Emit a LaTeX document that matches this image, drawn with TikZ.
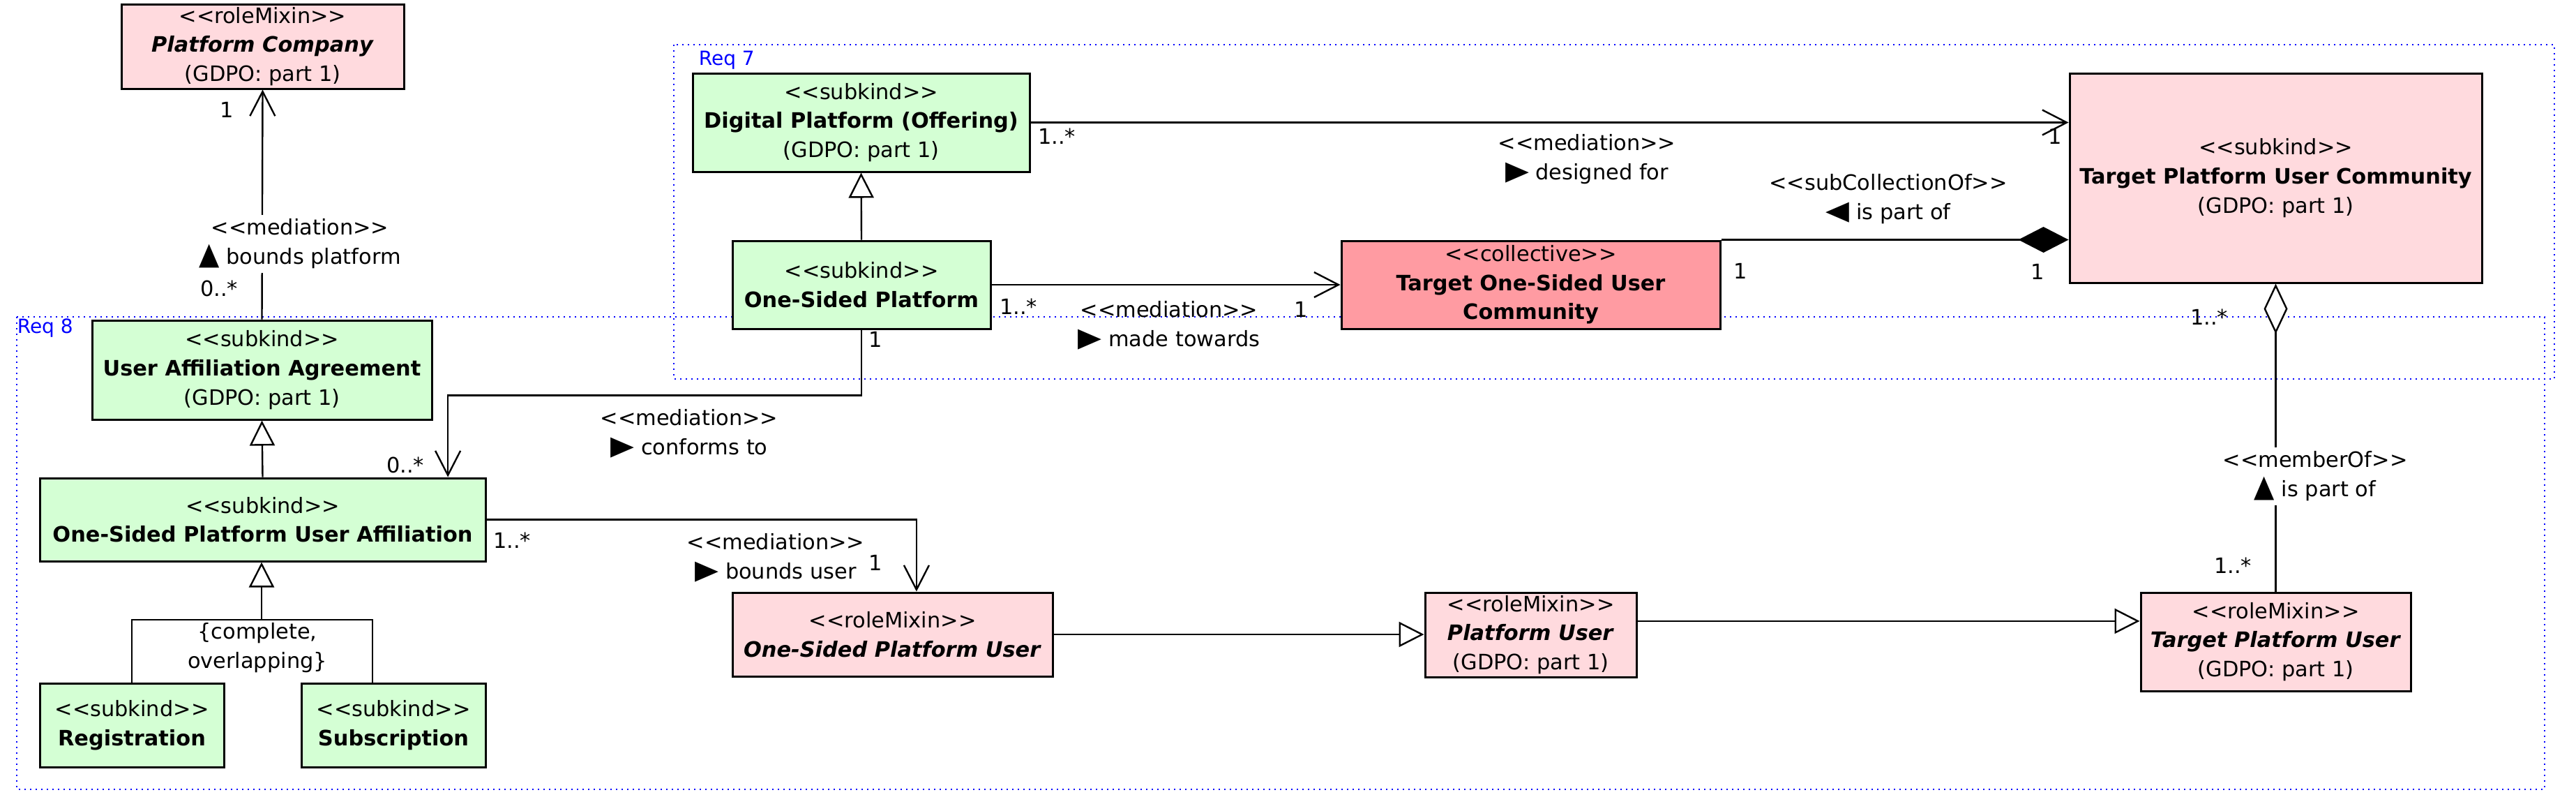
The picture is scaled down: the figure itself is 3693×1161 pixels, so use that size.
\documentclass[tikz,border=0pt]{standalone}
\usepackage{fontspec}
\setmainfont{DejaVu Sans}[Ligatures=TeXOff]
\usetikzlibrary{arrows.meta,calc}
\definecolor{kgreen}{RGB}{212,255,212}
\definecolor{kpink}{RGB}{255,218,222}
\definecolor{kred}{RGB}{255,155,162}
\newcommand\trR{\scalebox{1.45}[1.25]{▶}}
\newcommand\trL{\scalebox{1.45}[1.25]{◀}}
\newcommand\trU{\scalebox{1.25}[1.45]{▲}}
\begin{document}
\begin{tikzpicture}[x=0.25pt,y=-0.25pt,
  every node/.style={font=\fontsize{7.6pt}{10.4pt}\selectfont, inner sep=0pt},
  cls/.style={draw, line width=0.75pt, align=center, inner sep=0pt},
  lbl/.style={align=center},
  conn/.style={line width=0.6pt},
  assoc/.style={conn,-{Straight Barb[length=8.75pt,width=9pt]}},
  gen/.style={conn,-{Triangle[length=9pt,width=9pt,fill=white]}},
  comp/.style={conn,-{Diamond[length=18pt,width=9.25pt]}},
  aggr/.style={conn,-{Diamond[length=18pt,width=8.5pt,fill=white]}},
  req/.style={blue, line width=0.7pt, dash pattern=on 0.6pt off 1.4pt},
  reqlbl/.style={text=blue, anchor=west, font=\fontsize{7pt}{8pt}\selectfont}
]
\useasboundingbox (0,0) rectangle (3693,1161);
\fill[white] (0,0) rectangle (3693,1161);

% requirement frames
\draw[req] (966,64) rectangle (3662,543);
\draw[req] (24,454) rectangle (3648,1131);
\node[reqlbl] (r7) at (1001,86) {Req 7};
\node[reqlbl] (r8) at (24,470) {Req 8};

% classes
\node[cls, fill=kpink, minimum width=101.25pt, minimum height=30.25pt] (PC) at (376.5,66.5)
  {<<roleMixin>>\\\textbf{\textit{Platform Company}}\\(GDPO: part 1)};
\node[cls, fill=kgreen, minimum width=120.75pt, minimum height=35.25pt] (DP) at (1234.5,175.5)
  {<<subkind>>\\\textbf{Digital Platform (Offering)}\\(GDPO: part 1)};
\node[cls, fill=kgreen, minimum width=92.5pt, minimum height=31.5pt] (OSP) at (1235,408)
  {<<subkind>>\\\textbf{One-Sided Platform}};
\node[cls, fill=kred, minimum width=135.75pt, minimum height=31.5pt] (COL) at (2194.5,408)
  {<<collective>>\\\textbf{Target One-Sided User}\\\textbf{Community}};
\node[cls, fill=kpink, minimum width=147.75pt, minimum height=75pt] (TPUC) at (3262.5,255)
  {<<subkind>>\\\textbf{Target Platform User Community}\\(GDPO: part 1)};
\node[cls, fill=kgreen, minimum width=121.75pt, minimum height=35.5pt] (UAA) at (375.5,530)
  {<<subkind>>\\\textbf{User Affiliation Agreement}\\(GDPO: part 1)};
\node[cls, fill=kgreen, minimum width=159.75pt, minimum height=29.75pt] (OSPUA) at (376.5,744.5)
  {<<subkind>>\\\textbf{One-Sided Platform User Affiliation}};
\node[cls, fill=kgreen, minimum width=66pt, minimum height=30pt] (REG) at (189,1039)
  {<<subkind>>\\\textbf{Registration}};
\node[cls, fill=kgreen, minimum width=66pt, minimum height=30pt] (SUB) at (564,1039)
  {<<subkind>>\\\textbf{Subscription}};
\node[cls, fill=kpink, minimum width=114.75pt, minimum height=30pt] (OSPU) at (1279.5,909)
  {<<roleMixin>>\\\textbf{\textit{One-Sided Platform User}}};
\node[cls, fill=kpink, minimum width=75.75pt, minimum height=30.25pt] (PU) at (2194.5,909.5)
  {<<roleMixin>>\\\textbf{\textit{Platform User}}\\(GDPO: part 1)};
\node[cls, fill=kpink, minimum width=96.75pt, minimum height=35.25pt] (TPU) at (3262.5,919.5)
  {<<roleMixin>>\\\textbf{\textit{Target Platform User}}\\(GDPO: part 1)};

% connectors
\draw[assoc] (UAA.north) -- (PC.south);
\draw[assoc] (DP.east) -- (DP.east -| TPUC.west);
\draw[assoc] (OSP.east) -- (COL.west);
\draw[comp] (COL.north east) -- (COL.north east -| TPUC.west);
\draw[assoc] (OSP.south) -- ++(0,94) -| ([xshift=66.4pt]OSPUA.north);
\draw[assoc] (OSPUA.east) -| ([xshift=8.6pt]OSPU.north);
\draw[gen] (OSPU.east) -- (OSPU.east -| PU.west);
\draw[gen] ([yshift=4.9pt]PU.east) -- ([yshift=4.9pt]PU.east -| TPU.west);
\draw[aggr] (TPU.north) -- (TPUC.south);
\draw[gen] (OSPUA.north) -- (UAA.south);
\draw[gen] (OSP.north) -- (DP.south);
\coordinate (gs) at (375,888);
\coordinate (subtop) at ([xshift=-7.5pt]SUB.north);
\draw[conn] (REG.north) |- (gs) -| (subtop);
\draw[gen] (gs) -- (gs |- OSPUA.south);
\node[lbl] (gslbl) at (369,928) {\{complete,\\overlapping\}};

% association labels
\node[lbl, fill=white, inner sep=1.5pt] (l1) at (430,349) {<<mediation>>\\\trU\ bounds platform};
\node[lbl] (l2) at (2275,228) {<<mediation>>\\\trR\ designed for};
\node[lbl] (l3) at (1676,466) {<<mediation>>\\\trR\ made towards};
\node[lbl] (l4) at (2707,285) {<<subCollectionOf>>\\\trL\ is part of};
\node[lbl] (l5) at (988,621) {<<mediation>>\\\trR\ conforms to};
\node[lbl] (l6) at (1112,799) {<<mediation>>\\\trR\ bounds user};
\node[lbl, fill=white, inner sep=1.5pt] (l7) at (3319,682) {<<memberOf>>\\\trU\ is part of};

% multiplicities
\node (m1) at (325,157) {1};
\node (m2) at (314,413) {0..*};
\node (m3) at (1515,195) {1..*};
\node (m4) at (2946,195) {1};
\node (m5) at (1460,439) {1..*};
\node (m6) at (1865,443) {1};
\node (m7) at (2495,388) {1};
\node (m8) at (2921,389) {1};
\node (m9) at (1255,486) {1};
\node (m10) at (581,666) {0..*};
\node (m11) at (734,774) {1..*};
\node (m12) at (1255,806) {1};
\node (m13) at (3167,454) {1..*};
\node (m14) at (3201,810) {1..*};
\end{tikzpicture}
\end{document}
